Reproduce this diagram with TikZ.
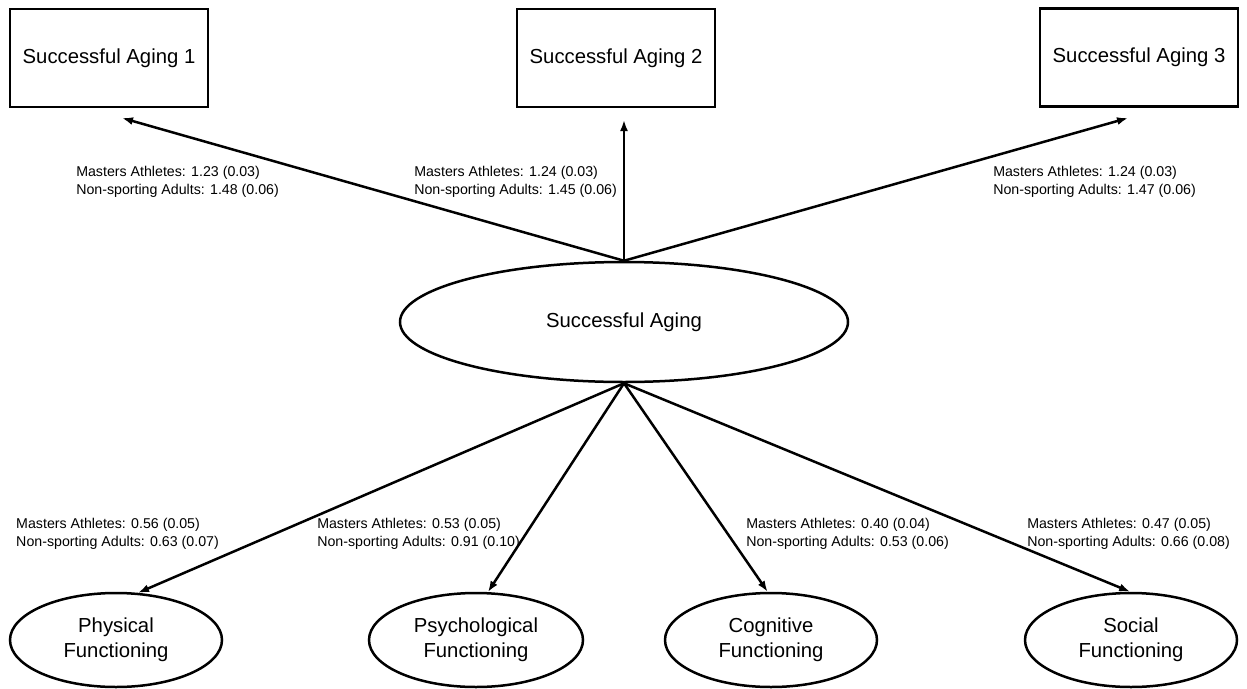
\documentclass[tikz,border=0pt]{standalone}
\usepackage{fontspec}
\setmainfont{Liberation Sans}
\usetikzlibrary{arrows.meta,shapes.geometric}

\begin{document}
\begin{tikzpicture}[x=1pt,y=-1pt,line width=2.5pt,
	box/.style={rectangle,draw,minimum width=198pt,minimum height=98pt,font=\fontsize{20.3}{25}\selectfont},
	latent/.style={ellipse,draw,inner sep=0pt,align=center,font=\fontsize{20.3}{25}\selectfont},
	est/.style={anchor=west,align=left,inner sep=0pt,font=\fontsize{14.2}{18}\selectfont},
	arr/.style={-{Latex[length=11pt,width=8pt]}}]
	\useasboundingbox (0,0) rectangle (1247,688);
	\node (sa1) at (109,58) [box] {Successful Aging 1};
	\node (sa2) at (616,58) [box] {Successful Aging 2};
	\node (sa3) at (1139,57.5) [box] {Successful Aging 3};
	\node (sa) at (624,322) [latent,minimum width=448pt,minimum height=120pt] {Successful Aging};
	\node (phys) at (116,640) [latent,minimum width=212pt,minimum height=94pt] {Physical\\Functioning};
	\node (psych) at (476,640) [latent,minimum width=214pt,minimum height=94pt] {Psychological\\Functioning};
	\node (cogn) at (771,640) [latent,minimum width=212pt,minimum height=94pt] {Cognitive\\Functioning};
	\node (soc) at (1131,640) [latent,minimum width=212pt,minimum height=94pt] {Social\\Functioning};
	\coordinate (in1) at (122,118);
	\coordinate (in2) at (624,120);
	\coordinate (in3) at (1128,118);
	\draw [arr] (sa.north) -- (in1);
	\draw [arr] (sa.north) -- (in2);
	\draw [arr] (sa.north) -- (in3);
	\draw [arr] (sa.south) -- (phys.65);
	\draw [arr] (sa.south) -- (psych.76);
	\draw [arr] (sa.south) -- (cogn.94);
	\draw [arr] (sa.south) -- (soc.91);
	% loadings
	\node (w1) at (75,182) [est] {Masters Athletes: 1.23 (0.03)\\Non-sporting Adults: 1.48 (0.06)};
	\node (w2) at (413,182) [est] {Masters Athletes: 1.24 (0.03)\\Non-sporting Adults: 1.45 (0.06)};
	\node (w3) at (992,182) [est] {Masters Athletes: 1.24 (0.03)\\Non-sporting Adults: 1.47 (0.06)};
	\node (w4) at (15,534) [est] {Masters Athletes: 0.56 (0.05)\\Non-sporting Adults: 0.63 (0.07)};
	\node (w5) at (316,534) [est] {Masters Athletes: 0.53 (0.05)\\Non-sporting Adults: 0.91 (0.10)};
	\node (w6) at (745,534) [est] {Masters Athletes: 0.40 (0.04)\\Non-sporting Adults: 0.53 (0.06)};
	\node (w7) at (1026,534) [est] {Masters Athletes: 0.47 (0.05)\\Non-sporting Adults: 0.66 (0.08)};
\end{tikzpicture}
\end{document}
